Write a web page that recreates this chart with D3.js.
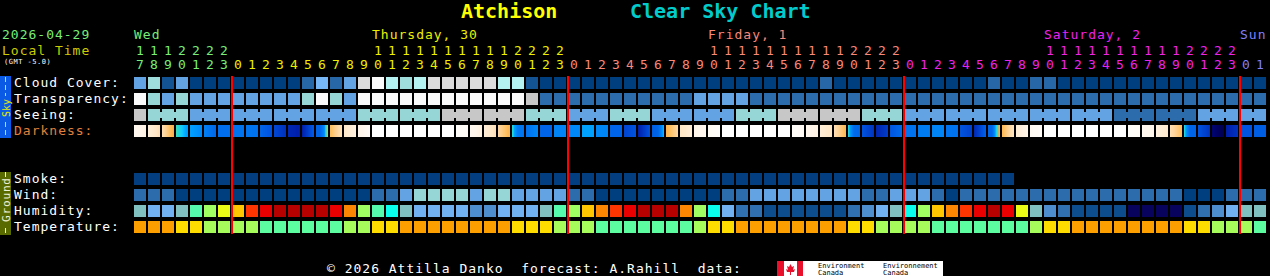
<!DOCTYPE html>
<html><head><meta charset="utf-8">
<script src="https://cdn.jsdelivr.net/npm/d3@7"></script>
<style>
html,body{margin:0;padding:0;background:#000;overflow:hidden;}
svg{display:block;}
text{font-family:"DejaVu Sans Mono",monospace;white-space:pre;}
</style></head><body>
<svg id="chart" width="1270" height="276"></svg>
<script>
// ---------------- DATA ----------------
const titleName = "Atchison";
const titleRest = "Clear Sky Chart";
const dateLabel = "2026-04-29";
const tzLabel = "Local Time";
const gmtLabel = "(GMT -5.0)";
const dayLabels = ["Wed", "Thursday, 30", "Friday, 1", "Saturday, 2", "Sun"];
const hours = [17,18,19,20,21,22,23,
  0,1,2,3,4,5,6,7,8,9,10,11,12,13,14,15,16,17,18,19,20,21,22,23,
  0,1,2,3,4,5,6,7,8,9,10,11,12,13,14,15,16,17,18,19,20,21,22,23,
  0,1,2,3,4,5,6,7,8,9,10,11,12,13,14,15,16,17,18,19,20,21,22,23,
  0,1];
const skyRows = ["Cloud Cover:", "Transparency:", "Seeing:", "Darkness:"];
const groundRows = ["Smoke:", "Wind:", "Humidity:", "Temperature:"];

// cloud cover, percent
const cloudCover = [50,70,10,50,0,0,0,0,0,0,0,0,20,60,20,50,90,100,80,70,80,90,90,90,90,90,80,80,10,
  0,0,0,0,0,0,0,0,0,0,0,0,0,0,0,0,0,0,0,0,20,
  0,0,0,0,0,0,0,0,0,0,0,20,0,0,20,20,
  0,0,0,0,0,0,0,0,0,0,0,0,0,0,0];
// transparency: 0 excellent .. 4 poor, 5 too cloudy
const transparency = [5,3,2,3,2,2,2,2,2,2,2,2,3,5,3,2,5,5,5,5,5,5,5,5,5,5,5,5,4,
  1,1,1,1,1,1,1,1,1,1,1,2,2,2,2,
  1,1,1,1,1,1,1,1,1,1,1,1,1,1,1,1,1,1,1,1,1,1,1,1,1,1,1,1,1,1,1,1,1,1,1,1,1];
// seeing: 1 bad .. 5 excellent
const seeing = [1,2,2,2,3,3,3,3,3,3,3,3,3,3,3,3,2,2,2,2,2,2,1,1,1,1,1,1,2,2,2,3,3,3,2,2,2,
  3,3,3,3,3,3,2,2,2,1,1,1,1,1,1,2,2,2,3,3,3,3,3,3,3,3,3,3,3,3,3,3,3,4,4,4,4,4,4,3,3,3,3,3];
// darkness: limiting-magnitude samples through each hour (negative = twilight/day)
const darkness = [
  [-3.3,-2.8],[-2.6,-1.8],[-1.8,-0.7],[-0.05,0.7],[0.6,1.0],[1.2,1.9],[1.7,1.7],[1.5,1.5],[1.5,1.6],[2.0,2.6],
  [2.9,3.6],[3.9,4.2],[4.2,2.2],[2.0,2.0,1.0,-0.8],[-1.0,-1.9],[-2.1,-2.8],[-3.0,-3.6],
  [-4,-4],[-4,-4],[-4,-4],[-4,-4],[-4,-4],[-4,-4],
  [-3.8,-3.5],[-3.3,-2.7],[-2.5,-1.8],[-1.6,-0.8],[0,1.4,1.5],[1.6,1.0],[2.0,2.0],[1.1,1.1],[1.0,1.0],[0.6,0.6],
  [1.0,1.1],[2.0,2.0],[3.0,2.5],[4.2,2.5],[2.2,2.0,0.3],[-0.8,-1.6],[-2.0,-2.5],[-3.0,-3.3],[-3.5,-3.8],
  [-4,-4],[-4,-4],[-4,-4],[-4,-4],[-4,-4],
  [-3.7,-3.4],[-3.1,-2.8],[-2.5,-2.0],[-1.8,-0.9],[0,1.8,2.0],[2.5,3.5],[4.0,3.2],[2.5,1.8],[1.5,1.5],[1.3,1.3],
  [1.1,1.1],[1.5,1.6],[2.5,3.1],[3.9,2.0],[2.0,2.0,0.3,-0.8],[-0.9,-2.0],[-2.4,-3.0],[-3.4,-3.6],
  [-4,-4],[-4,-4],[-4,-4],[-4,-4],[-4,-4],[-4,-4],
  [-3.8,-3.6],[-3.3,-3.0],[-2.7,-2.2],[-1.8,-1.0],[0,2.0,2.0],[2.5,3.5],[5.2,5.8],[4.2,3.5],[2.5,2.5],[2.2,2.2]];
// smoke: 0 = no smoke (forecast covers fewer hours)
const smoke = [0,0,0,0,0,0,0,0,0,0,0,0,0,0,0,0,0,0,0,0,0,0,0,0,0,0,0,0,0,0,0,0,
  0,0,0,0,0,0,0,0,0,0,0,0,0,0,0,0,0,0,0,0,0,0,0,0,0,0,0,0,0,0,0];
// wind class: 0 (0-5 mph) .. 5 (>45 mph)
const wind = [1,1,1,0,0,0,0,0,0,0,0,0,0,0,0,0,0,1,1,2,3,3,3,3,2,3,3,2,2,2,2,1,1,
  0,0,0,0,0,0,0,0,0,1,1,2,2,2,2,2,2,2,2,1,1,2,2,2,1,0,
  1,1,1,1,1,1,1,1,1,1,1,1,1,1,1,1,0,0,0,1,1,1];
// humidity class: 0 (<25%) .. 15 (95-100%)
const humidity = [5,4,4,5,7,8,9,10,12,13,14,14,14,14,13,11,8,7,6,5,
  4,4,4,4,3,3,4,4,4,5,7,8,10,11,12,13,14,14,14,11,
  8,6,4,2,2,1,1,1,1,1,1,2,3,4,5,6,8,10,11,12,
  13,14,13,9,5,3,2,1,1,1,1,0,0,0,0,1,2,3,4,5,5];
// temperature class: 0 coolest shown .. 3 warmest shown
const temperature = [3,3,3,2,2,1,1,1,1,0,0,0,0,0,0,1,1,2,2,3,
  3,3,3,3,3,3,3,2,2,2,1,1,1,0,0,0,0,0,0,0,
  1,2,2,3,3,3,3,3,3,3,3,2,2,1,1,1,1,0,0,0,
  0,0,0,0,1,2,2,3,3,3,3,3,3,3,3,2,2,1,1,1,0];
const footerText = "\u00a9 2026 Attilla Danko  forecast: A.Rahill  data:";

// ---------------- STYLE ----------------
const cloudColors = {0:"#003f7f",10:"#135393",20:"#2767a7",30:"#3b7bbb",40:"#4f8fcf",50:"#63a3e3",
  60:"#77b7f7",70:"#9fdcdc",80:"#b4f2f2",90:"#dcdcdc",100:"#fafafa"};
const transColors = ["#003f7f","#2c6cac","#63a3e3","#97d6d6","#c7c7c7","#fafafa"];
const seeingColors = {1:"#c7c7c7",2:"#97d6d6",3:"#63a3e3",4:"#2c6cac",5:"#003f7f"};
const smokeColors = ["#033f80"];
const windColors = ["#003f7f","#2c6cac","#63a3e3","#97d6d6","#c7c7c7","#f9f9f9"];
const humColors = ["#08035d","#0d4d8d","#3070b0","#4e8ece","#71b1f1","#80c0c0","#09feed","#55faad",
  "#a0fe62","#eafb16","#fec600","#fc8602","#fe3401","#ea0000","#b70000","#e10000"];
const tempColors = ["#5cfca0","#a6fc5a","#fedc00","#fe9f00"];
const dayColors = ["#77ee77","#eeee00","#f88878","#ee22ee","#7f7fff"];
const darkStops = [[-4,"#ffffff"],[-3,"#fff5e9"],[-2,"#ffe6c4"],[-1.5,"#ffd49a"],[-1,"#ffbd5a"],[-0.5,"#f5a540"],
  [0,"#30dcc0"],[0.3,"#12ccff"],[0.6,"#00a0ff"],[1,"#0088f8"],[1.5,"#0074f0"],[2,"#0064e8"],
  [2.5,"#0054e0"],[3,"#0044d0"],[3.5,"#0034c0"],[4,"#0024b0"],[4.5,"#0014a0"],[5,"#000880"],[5.5,"#000060"],[6,"#000040"]];

// ---------------- SCALES ----------------
const svg = d3.select("#chart");
const n = hours.length;
const x = d3.scaleBand().domain(d3.range(n)).range([134, 134 + n * 14 - 2]).paddingInner(2 / 14).paddingOuter(0);
const ySky = d3.scaleBand().domain(skyRows).range([77, 137]).paddingInner(0.25);
const yGround = d3.scaleBand().domain(groundRows).range([173, 233]).paddingInner(0.25);
const bw = x.bandwidth(), bh = ySky.bandwidth();
const darkColor = d3.scaleLinear().domain(darkStops.map(d => d[0])).range(darkStops.map(d => d[1]))
  .interpolate(d3.interpolateRgb).clamp(true);

// day index per column (new day when hour returns to 0)
const dayIdx = [];
hours.forEach((h, i) => dayIdx.push(i === 0 ? 0 : dayIdx[i - 1] + (h === 0 ? 1 : 0)));

// ---------------- TITLE / HEADER ----------------
svg.append("text").attr("x", 461).attr("y", 18).attr("font-size", 20).attr("font-weight", "bold")
  .attr("fill", "#ffff00").text(titleName);
svg.append("text").attr("x", 630).attr("y", 18).attr("font-size", 20).attr("font-weight", "bold")
  .attr("fill", "#00cccc").text(titleRest);

svg.append("text").attr("x", 2).attr("y", 39).attr("font-size", 13).attr("letter-spacing", 1)
  .attr("fill", "#77ee77").text(dateLabel);
svg.append("text").attr("x", 2).attr("y", 55).attr("font-size", 13).attr("letter-spacing", 1)
  .attr("fill", "#cccc00").text(tzLabel);
svg.append("text").attr("x", 4).attr("y", 64).attr("font-size", 7).attr("letter-spacing", 0.5)
  .attr("fill", "#ffffff").text(gmtLabel);

// day labels: at 10:00 column if present, else first column of the day
dayLabels.forEach((lab, d) => {
  const cols = d3.range(n).filter(i => dayIdx[i] === d);
  let c = cols.find(i => hours[i] === 10);
  if (c === undefined) c = cols[0];
  svg.append("text").attr("x", x(c)).attr("y", 39).attr("font-size", 13).attr("letter-spacing", 1)
    .attr("fill", dayColors[d]).text(lab);
});
// hour digits
const hg = svg.append("g").attr("font-size", 13).attr("text-anchor", "middle");
hg.selectAll("text.tens").data(d3.range(n).filter(i => hours[i] >= 10)).join("text")
  .attr("x", i => x(i) + bw / 2).attr("y", 55).attr("fill", i => dayColors[dayIdx[i]])
  .text(i => Math.floor(hours[i] / 10));
hg.selectAll("text.units").data(d3.range(n)).join("text")
  .attr("x", i => x(i) + bw / 2).attr("y", 69).attr("fill", i => dayColors[dayIdx[i]])
  .text(i => hours[i] % 10);

// ---------------- SIDE BARS ----------------
svg.append("rect").attr("x", 0).attr("y", 76).attr("width", 11).attr("height", 62).attr("fill", "#0a5ae6");
svg.append("line").attr("x1", 5.5).attr("x2", 5.5).attr("y1", 77).attr("y2", 96)
  .attr("stroke", "#e8e800").attr("stroke-dasharray", "5,3");
svg.append("line").attr("x1", 5.5).attr("x2", 5.5).attr("y1", 122).attr("y2", 137)
  .attr("stroke", "#e8e800").attr("stroke-dasharray", "5,3");
svg.append("text").attr("transform", "translate(9.5,108) rotate(-90)").attr("text-anchor", "middle")
  .attr("font-size", 10).attr("fill", "#e8e800").text("Sky");

svg.append("rect").attr("x", 0).attr("y", 172).attr("width", 11).attr("height", 63).attr("fill", "#596b00");
svg.append("line").attr("x1", 5.5).attr("x2", 5.5).attr("y1", 172).attr("y2", 177).attr("stroke", "#f0f0d8");
svg.append("line").attr("x1", 5.5).attr("x2", 5.5).attr("y1", 228).attr("y2", 233).attr("stroke", "#f0f0d8");
svg.append("text").attr("transform", "translate(9.5,200) rotate(-90)").attr("text-anchor", "middle")
  .attr("font-size", 11).attr("textLength", 44).attr("fill", "#f0f0d8").text("Ground");

// ---------------- ROW LABELS ----------------
skyRows.forEach(r => svg.append("text").attr("x", 14).attr("y", ySky(r) + 10).attr("font-size", 13)
  .attr("letter-spacing", 1).attr("fill", r === "Darkness:" ? "#e0803c" : "#ffffff").text(r));
groundRows.forEach(r => svg.append("text").attr("x", 14).attr("y", yGround(r) + 10).attr("font-size", 13)
  .attr("letter-spacing", 1).attr("fill", "#ffffff").text(r));

// ---------------- CELLS ----------------
const cells = svg.append("g").attr("shape-rendering", "crispEdges");
function drawRow(values, y, colorFn) {
  cells.append("g").selectAll("rect").data(values).join("rect")
    .attr("x", (d, i) => x(i)).attr("y", y).attr("width", bw).attr("height", bh)
    .attr("fill", colorFn);
}
drawRow(cloudCover, ySky("Cloud Cover:"), d => cloudColors[d]);
drawRow(transparency, ySky("Transparency:"), d => transColors[d]);
drawRow(seeing, ySky("Seeing:"), d => seeingColors[d]);
// seeing connectors inside 3-hour forecast blocks
const block = i => dayIdx[i] * 8 + Math.floor(hours[i] / 3);
cells.append("g").selectAll("rect")
  .data(d3.range(n - 1).filter(i => block(i) === block(i + 1) && seeing[i] === seeing[i + 1]))
  .join("rect").attr("x", i => x(i) + bw).attr("y", ySky("Seeing:") + 3)
  .attr("width", x.step() - bw).attr("height", 6).attr("fill", i => seeingColors[seeing[i]]);

// darkness gradients
const defs = svg.append("defs");
darkness.forEach((s, i) => {
  const g = defs.append("linearGradient").attr("id", "dk" + i).attr("x1", 0).attr("x2", 1).attr("y1", 0).attr("y2", 0);
  const K = 24;
  for (let k = 0; k <= K; k++) {
    const t = k / K, pos = t * (s.length - 1), j = Math.min(Math.floor(pos), s.length - 2), f = pos - j;
    const v = s[j] + (s[j + 1] - s[j]) * f;
    g.append("stop").attr("offset", t).attr("stop-color", darkColor(v));
  }
});
drawRow(darkness, ySky("Darkness:"), (d, i) => `url(#dk${i})`);

drawRow(smoke, yGround("Smoke:"), d => smokeColors[d]);
drawRow(wind, yGround("Wind:"), d => windColors[d]);
drawRow(humidity, yGround("Humidity:"), d => humColors[d]);
drawRow(temperature, yGround("Temperature:"), d => tempColors[d]);

// midnight lines
svg.append("g").attr("shape-rendering", "crispEdges").selectAll("rect")
  .data(d3.range(n).filter(i => hours[i] === 0)).join("rect")
  .attr("x", i => x(i) - 1).attr("y", 76).attr("width", 2).attr("height", 158).attr("fill", "#ff0000");

// ---------------- FOOTER ----------------
svg.append("text").attr("x", 327).attr("y", 273).attr("font-size", 13).attr("letter-spacing", 1)
  .attr("fill", "#ffffff").text(footerText);
const logo = svg.append("g").attr("transform", "translate(777,261)");
logo.append("rect").attr("width", 166).attr("height", 15).attr("fill", "#ffffff");
logo.append("rect").attr("width", 7).attr("height", 15).attr("fill", "#e8102a");
logo.append("rect").attr("x", 20).attr("width", 6).attr("height", 15).attr("fill", "#e8102a");
logo.append("path").attr("d", "M13.5,3 L15,6 L17,5 L16,9 L18,8 L17,11 L14,11 L14,14 L13,14 L13,11 L10,11 L9,8 L11,9 L10,5 L12,6 Z")
  .attr("fill", "#e8102a");
const logoText = [["Environment", 41, 7], ["Canada", 41, 13.5], ["Environnement", 106, 7], ["Canada", 106, 13.5]];
logoText.forEach(([t, lx, ly]) => logo.append("text").attr("x", lx).attr("y", ly)
  .attr("font-family", "Liberation Sans, sans-serif").attr("font-size", 7).attr("fill", "#000").text(t));
</script>
</body></html>
